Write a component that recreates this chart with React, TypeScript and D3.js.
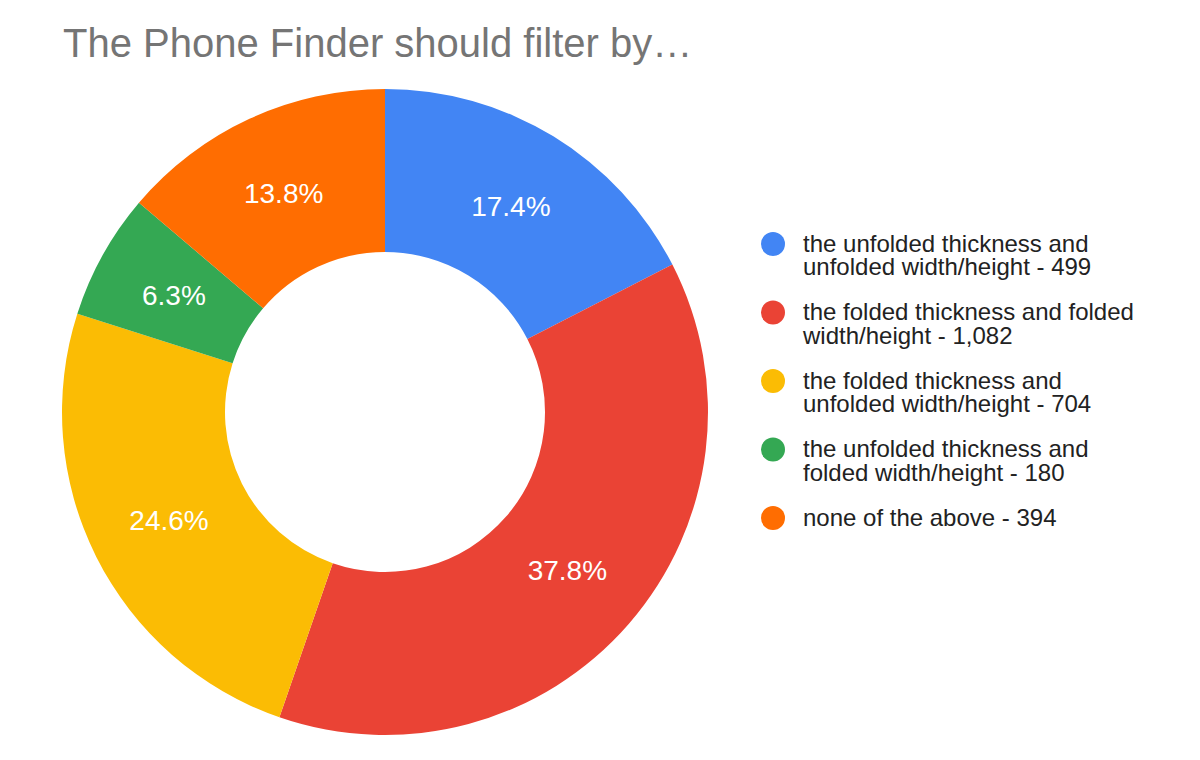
import React, { useEffect, useRef } from 'react';
import * as d3 from 'd3';

const categories = [
  'the unfolded thickness and unfolded width/height',
  'the folded thickness and folded width/height',
  'the folded thickness and unfolded width/height',
  'the unfolded thickness and folded width/height',
  'none of the above',
];
const counts = [499, 1082, 704, 180, 394];
// percentages as printed on the slices
const sliceLabels = ['17.4%', '37.8%', '24.6%', '6.3%', '13.8%'];
const colors = ['#4285f4', '#ea4335', '#fbbc04', '#34a853', '#ff6d01'];
// legend lines as wrapped in the chart
const legendLines = [
  ['the unfolded thickness and', 'unfolded width/height - 499'],
  ['the folded thickness and folded', 'width/height - 1,082'],
  ['the folded thickness and', 'unfolded width/height - 704'],
  ['the unfolded thickness and', 'folded width/height - 180'],
  ['none of the above - 394'],
];

const App: React.FC = () => {
  const svgRef = useRef<SVGSVGElement>(null);

  useEffect(() => {
    if (!svgRef.current) return;
    const svg = d3.select(svgRef.current);
    svg.selectAll('*').remove();

    const width = 1200;
    const height = 760;
    const cx = 385;
    const cy = 412;
    const outer = 323;
    const inner = 160;
    const font = 'Arial, "Liberation Sans", sans-serif';

    svg.append('rect').attr('width', width).attr('height', height).attr('fill', '#fff');

    svg.append('text')
      .attr('x', 63)
      .attr('y', 57)
      .attr('font-family', font)
      .attr('font-size', 40)
      .attr('fill', '#757575')
      .text('The Phone Finder should filter by…');

    const data = categories.map((c, i) => ({
      name: c, value: counts[i], color: colors[i], label: sliceLabels[i],
    }));

    const pie = d3.pie<typeof data[0]>().value(d => d.value).sort(null);
    const arc = d3.arc<d3.PieArcDatum<typeof data[0]>>().innerRadius(inner).outerRadius(outer);
    const labelArc = d3.arc<d3.PieArcDatum<typeof data[0]>>()
      .innerRadius((inner + outer) / 2)
      .outerRadius((inner + outer) / 2);

    const g = svg.append('g').attr('transform', `translate(${cx},${cy})`);
    const arcs = pie(data);

    g.selectAll('path')
      .data(arcs)
      .join('path')
        .attr('d', arc)
        .attr('fill', d => d.data.color)
        .attr('stroke', 'none');

    g.selectAll('text')
      .data(arcs)
      .join('text')
        .attr('transform', d => `translate(${labelArc.centroid(d)})`)
        .attr('text-anchor', 'middle')
        .attr('dy', '0.36em')
        .attr('font-family', font)
        .attr('font-size', 28)
        .attr('fill', '#ffffff')
        .text(d => d.data.label);

    // legend
    const legend = svg.append('g')
      .selectAll('g')
      .data(legendLines)
      .join('g')
        .attr('transform', (d, i) => `translate(773,${244 + i * 68.5})`);

    legend.append('circle')
      .attr('r', 12)
      .attr('fill', (d, i) => colors[i]);

    legend.append('text')
      .attr('font-family', font)
      .attr('font-size', 24)
      .attr('fill', '#222222')
      .selectAll('tspan')
      .data(d => d)
      .join('tspan')
        .attr('x', 30)
        .attr('y', (d, i) => 7.5 + i * 23.5)
        .text(d => d);
  }, []);

  return (
    <svg
      ref={svgRef}
      width={1200}
      height={760}
      style={{ position: 'absolute', left: 0, top: 0 }}
    ></svg>
  );
};

export default App;
